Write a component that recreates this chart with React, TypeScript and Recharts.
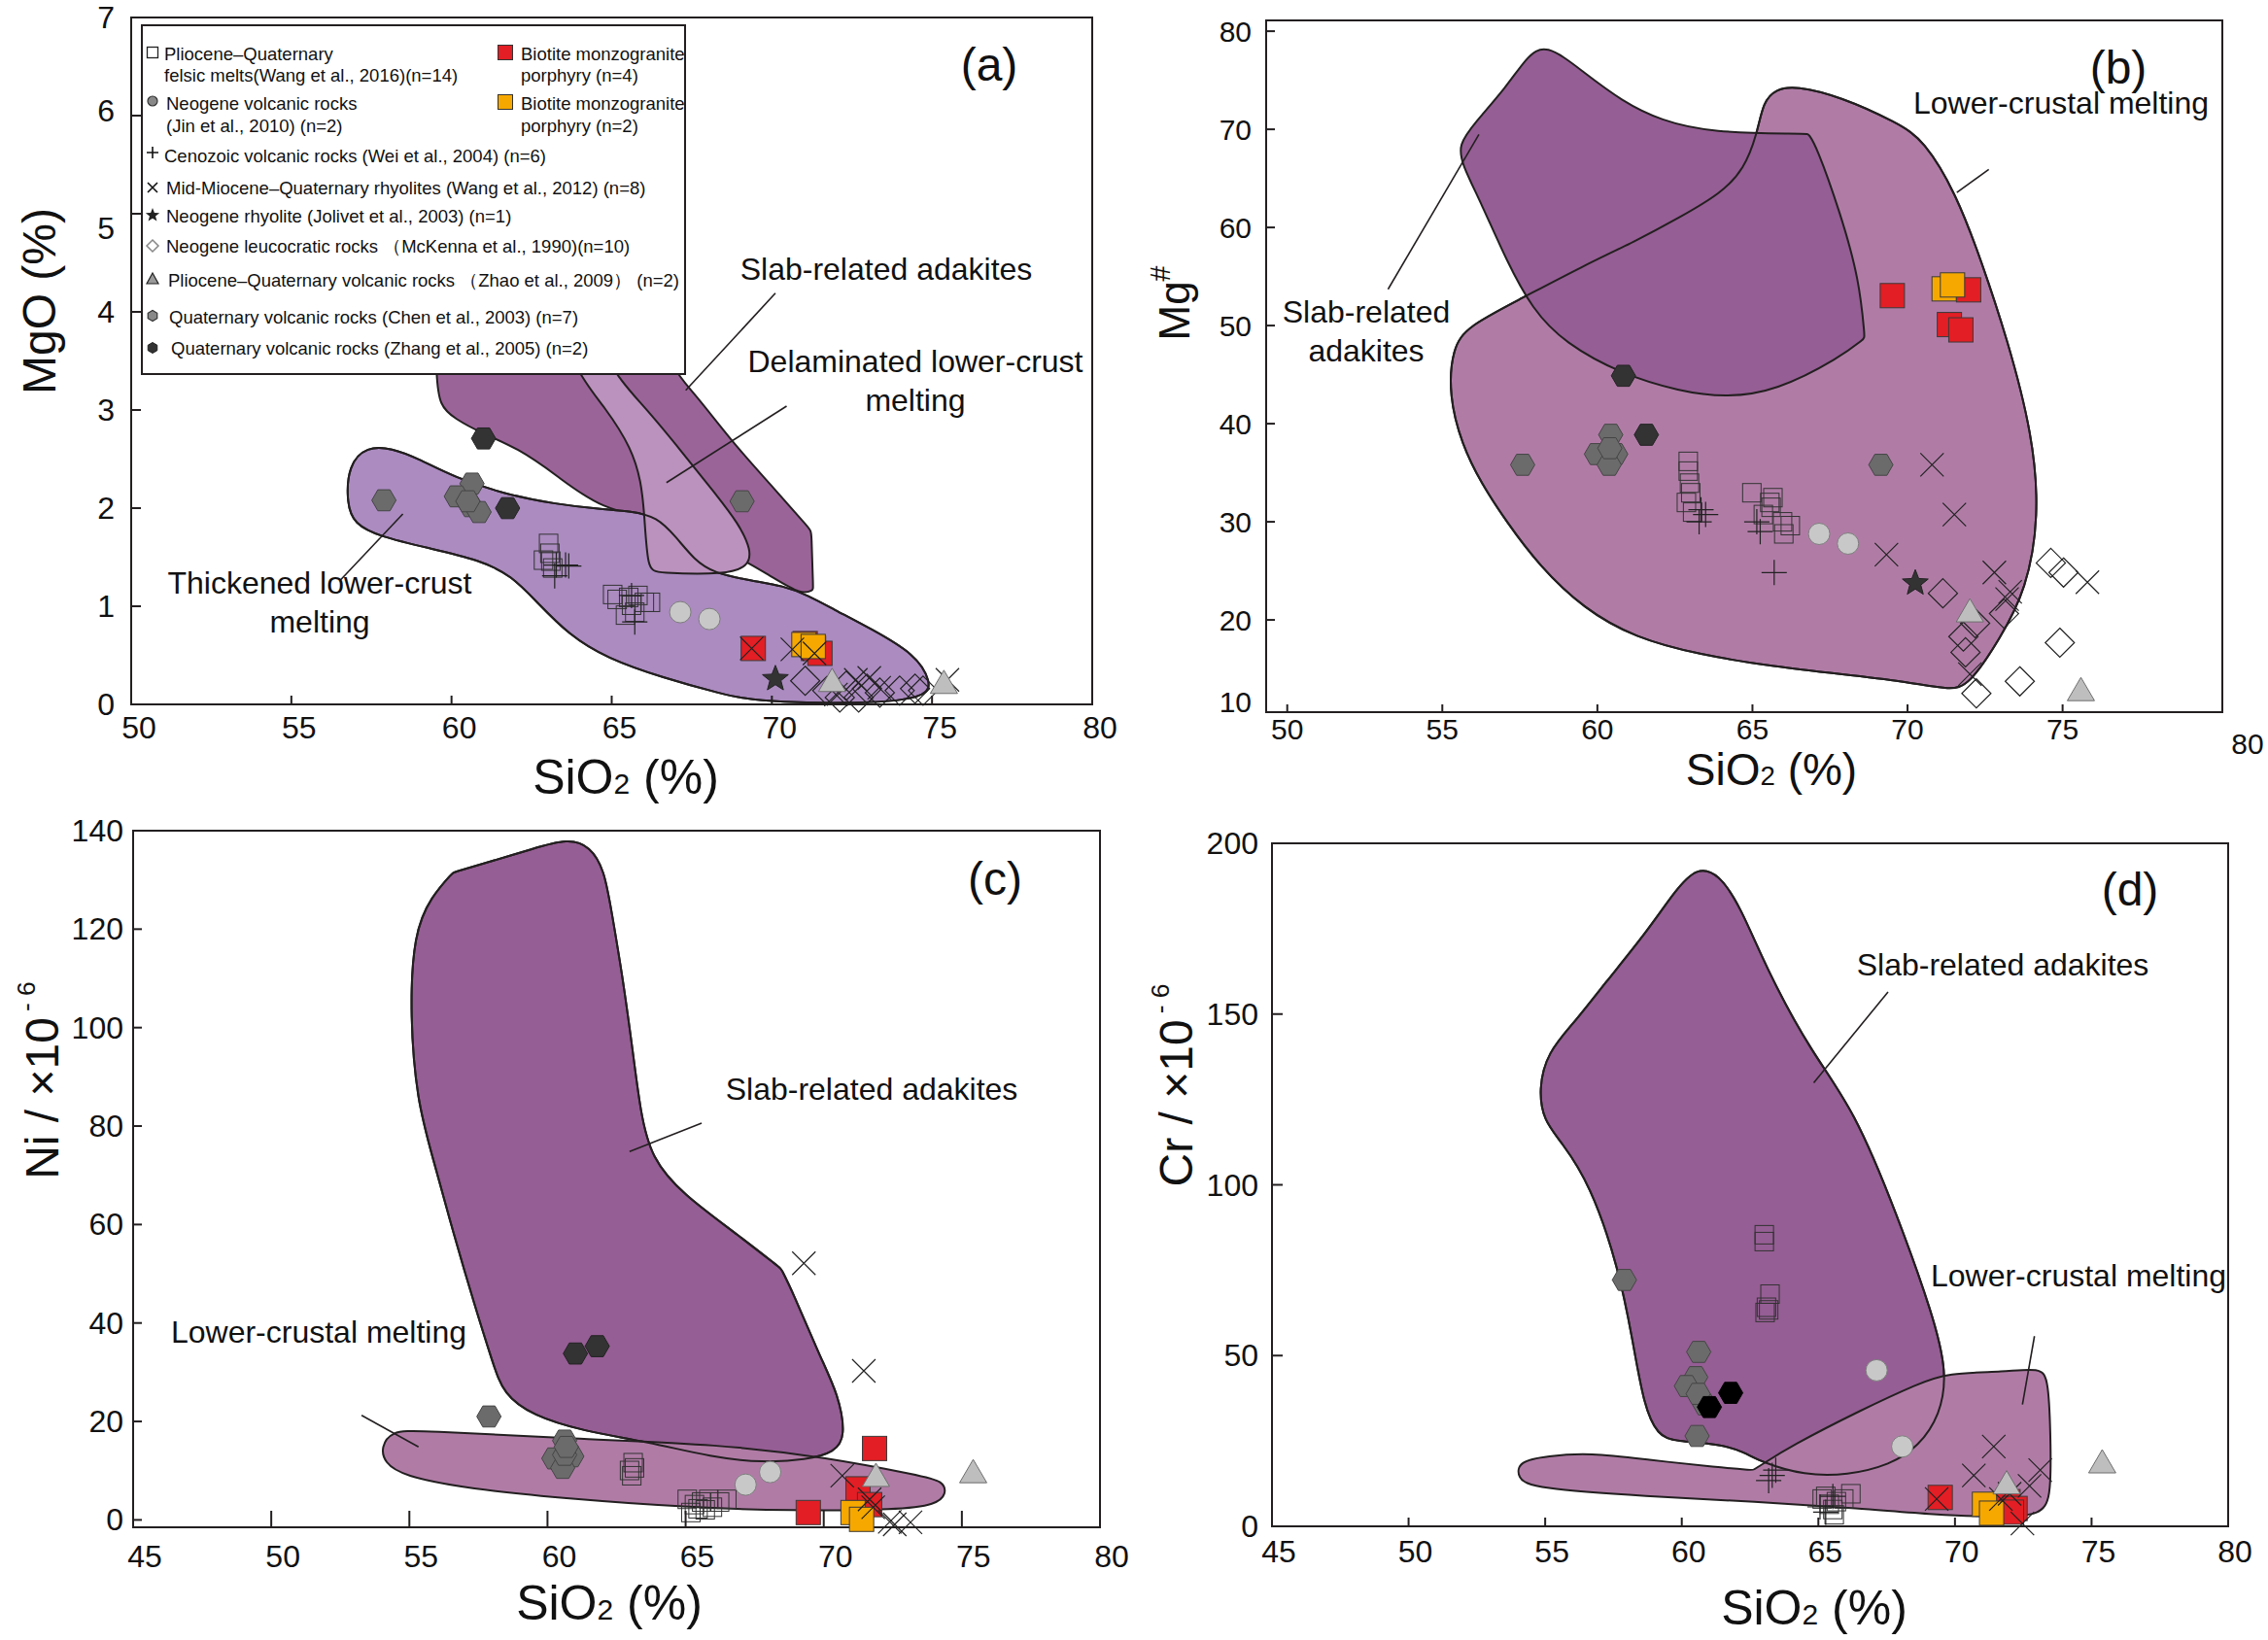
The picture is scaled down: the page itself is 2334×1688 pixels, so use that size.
import React from 'react';
import { ScatterChart, Scatter, XAxis, YAxis, ReferenceArea } from 'recharts';

const FONT = '"Liberation Sans", Arial, Helvetica, sans-serif';
const INK = '#231f20';

type Pair = [number, number];
const toPts = (a: Pair[]) => a.map(([x, y]) => ({ x, y }));

// ---------------- Panel (a): SiO2 vs MgO ----------------
const aSlabField: Pair[] = [[59.5, 3.9], [59.52, 3.36], [59.62, 3.04], [60.11, 2.91], [60.9, 2.77], [62.08, 2.61], [63.26, 2.34], [64.64, 1.99], [66.61, 1.87], [68.58, 1.57], [69.96, 1.31], [70.94, 1.11], [71.29, 1.17], [71.29, 1.17], [71.23, 1.77], [71.23, 1.77], [69.96, 2.24], [68.77, 2.67], [67.59, 3.17], [66.81, 3.44], [66.5, 3.9]];
const aDelamField: Pair[] = [[63.6, 3.9], [63.75, 3.44], [64.84, 3.01], [65.62, 2.61], [65.92, 2.27], [66.02, 1.94], [66.12, 1.37], [66.41, 1.34], [68.58, 1.32], [69.27, 1.41], [69.36, 1.57], [68.97, 1.84], [68.18, 2.17], [67.2, 2.57], [66.02, 3.04], [64.84, 3.44], [64.7, 3.9]];
const aThickField: Pair[] = [[57.36, 2.63], [56.77, 2.44], [56.73, 2.04], [56.96, 1.84], [57.75, 1.71], [59.33, 1.59], [60.9, 1.47], [61.88, 1.31], [62.67, 1.04], [63.66, 0.71], [64.84, 0.47], [66.61, 0.27], [68.38, 0.11], [69.76, 0.01], [74.88, 0.01], [74.97, 0.24], [74.48, 0.51], [73.1, 0.77], [71.92, 0.97], [71.14, 1.11], [70.35, 1.21], [69.36, 1.26], [68.18, 1.34], [67.59, 1.47], [67.0, 1.71], [66.41, 1.91], [65.62, 1.97], [64.64, 1.99], [63.27, 2.04], [61.69, 2.14], [60.11, 2.31], [58.93, 2.51], [58.14, 2.61]];
const aSlabLeader: Pair[] = [[67.31, 3.2], [70.11, 4.19]];
const aDelamLeader: Pair[] = [[66.71, 2.26], [70.46, 3.04]];
const aThickLeader: Pair[] = [[58.48, 1.94], [56.54, 1.27]];

const aWang2016: Pair[] = [[63.03, 1.64], [63.07, 1.54], [63.1, 1.46], [63.16, 1.39], [62.87, 1.47], [65.03, 1.12], [65.53, 1.09], [65.62, 1.01], [65.72, 0.94], [66.02, 1.04], [66.21, 1.04], [65.43, 0.91], [65.82, 1.11], [65.17, 1.07]];
const aWei: Pair[] = [[63.27, 1.42], [63.56, 1.42], [63.66, 1.41], [63.22, 1.31], [65.72, 0.84], [65.62, 1.11]];
const aJin: Pair[] = [[67.14, 0.94], [68.05, 0.87]];
const aChen: Pair[] = [[57.89, 2.08], [60.64, 2.25], [60.15, 2.12], [60.6, 2.02], [60.86, 1.96], [60.51, 2.07], [69.07, 2.07]];
const aZhang: Pair[] = [[61.0, 2.71], [61.75, 2.0]];
const aRed: Pair[] = [[69.42, 0.57], [71.04, 0.62], [71.3, 0.57], [71.5, 0.52]];
const aOrange: Pair[] = [[71.0, 0.61], [71.29, 0.59]];
const aWang2012: Pair[] = [[69.37, 0.57], [70.64, 0.56], [71.33, 0.52], [72.0, 0.1], [72.62, 0.25], [73.04, 0.27], [73.35, 0.17], [75.48, 0.25]];
const aJolivet: Pair[] = [[70.11, 0.26]];
const aMcKenna: Pair[] = [[71.04, 0.24], [71.73, 0.14], [72.12, 0.07], [72.71, 0.07], [72.97, 0.16], [73.37, 0.12], [74.47, 0.16], [72.32, 0.19], [74.72, 0.14], [73.99, 0.14]];
const aZhao: Pair[] = [[71.88, 0.24], [75.37, 0.22]];

// ---------------- Panel (b): SiO2 vs Mg# ----------------
const bLowerField: Pair[] = [[66.38, 74.43], [67.83, 73.35], [69.69, 70.64], [70.52, 68.92], [71.56, 63.5], [72.38, 56.6], [73.21, 48.72], [74.04, 38.87], [74.25, 30.49], [73.83, 23.1], [73.0, 18.18], [71.97, 13.25], [71.35, 12.86], [69.9, 13.74], [67.83, 14.48], [65.76, 15.22], [63.28, 16.45], [61.21, 18.18], [59.56, 21.13], [58.11, 25.57], [57.07, 30.0], [56.25, 33.94], [55.63, 37.88], [55.21, 42.81], [55.32, 47.73], [55.83, 49.95], [57.49, 52.66], [59.56, 56.11], [61.21, 58.57], [62.66, 61.03], [64.0, 63.5], [64.73, 65.96], [65.14, 69.41], [65.35, 72.86], [65.76, 74.09]];
const bSlabField: Pair[] = [[58.32, 78.87], [59.56, 75.81], [60.8, 72.86], [62.04, 70.89], [63.69, 69.66], [66.6, 69.55], [66.8, 69.51], [66.8, 69.51], [67.05, 68.42], [67.83, 61.53], [68.45, 54.63], [68.62, 48.72], [68.62, 48.72], [67.83, 46.75], [65.76, 43.3], [64.11, 42.66], [62.66, 43.3], [60.8, 45.02], [58.94, 48.23], [57.9, 51.67], [57.07, 56.6], [56.25, 62.51], [55.63, 66.45], [55.52, 68.42], [56.04, 70.64], [57.07, 74.33], [57.7, 77.29]];
const bSlabLeader: Pair[] = [[53.25, 53.7], [56.18, 69.47]];
const bLowerLeader: Pair[] = [[71.59, 63.56], [72.62, 65.92]];

const bWang2016: Pair[] = [[62.93, 36.16], [62.93, 35.17], [62.97, 33.94], [62.87, 31.97], [63.01, 32.96], [64.98, 32.96], [65.56, 31.97], [65.6, 31.48], [65.35, 30.74], [65.97, 30.0], [66.22, 29.61], [66.01, 28.77], [65.66, 32.46], [63.07, 30.99]];
const bWei: Pair[] = [[63.34, 31.23], [63.28, 30.0], [65.14, 30.0], [65.25, 29.0], [65.7, 24.83], [63.49, 30.74]];
const bJin: Pair[] = [[67.15, 28.77], [68.08, 27.78]];
const bChen: Pair[] = [[57.59, 35.81], [60.43, 38.87], [59.97, 36.9], [60.59, 36.9], [60.38, 35.81], [60.4, 37.5], [69.14, 35.81]];
const bZhang: Pair[] = [[60.84, 44.88], [61.58, 38.87]];
const bRed: Pair[] = [[69.51, 53.05], [71.97, 53.64], [71.35, 50.1], [71.72, 49.56]];
const bOrange: Pair[] = [[71.18, 53.74], [71.45, 54.14]];
const bWang2012: Pair[] = [[70.79, 35.81], [71.51, 30.74], [69.32, 26.65], [72.8, 24.83], [73.31, 22.86], [75.8, 23.84], [72.01, 14.48], [73.21, 22.12]];
const bJolivet: Pair[] = [[70.25, 23.74]];
const bMcKenna: Pair[] = [[71.14, 22.71], [72.18, 19.66], [73.11, 20.64], [71.87, 16.7], [74.62, 25.81], [75.03, 24.83], [74.91, 17.68], [73.62, 13.74], [72.22, 12.51], [71.8, 18.3]];
const bZhao: Pair[] = [[72.01, 20.89], [75.59, 12.86]];

// ---------------- Panel (c): SiO2 vs Ni ----------------
const cSlabField: Pair[] = [[60.75, 138.43], [61.54, 136.84], [62.06, 132.04], [62.32, 123.52], [62.71, 110.73], [63.1, 94.75], [63.36, 83.03], [63.75, 73.44], [64.93, 65.98], [66.75, 58.52], [68.45, 51.06], [68.45, 51.06], [68.84, 46.8], [69.88, 32.95], [70.53, 25.49], [70.8, 16.96], [70.4, 13.77], [69.36, 12.17], [67.8, 11.63], [65.97, 12.7], [63.62, 15.9], [61.28, 18.03], [59.45, 21.23], [58.41, 25.49], [58.02, 31.88], [57.36, 43.6], [56.58, 58.52], [55.8, 74.5], [55.28, 85.16], [55.02, 102.21], [55.15, 119.25], [55.8, 126.71], [56.58, 131.51], [56.58, 131.51], [57.88, 133.64], [59.45, 136.3]];
const cLowerField: Pair[] = [[54.36, 18.03], [55.28, 18.24], [61.01, 16.43], [66.23, 15.37], [70.14, 12.7], [73.53, 8.97], [74.32, 7.91], [74.45, 5.24], [74.06, 3.11], [72.75, 2.05], [68.84, 1.83], [64.93, 2.58], [61.01, 4.18], [57.1, 6.31], [54.75, 8.97], [54.1, 11.63], [53.97, 14.83]];
const cSlabLeader: Pair[] = [[62.97, 74.82], [65.58, 80.58]];
const cLowerLeader: Pair[] = [[53.27, 21.23], [55.33, 14.83]];

const cWang2016: Pair[] = [[63.1, 11.63], [62.97, 10.04], [63.15, 10.57], [63.05, 8.97], [65.06, 4.18], [65.32, 3.11], [65.58, 3.64], [66.23, 3.64], [65.71, 2.05], [65.45, 2.26], [65.84, 4.18], [66.49, 4.18], [65.19, 1.5], [65.97, 2.58]];
const cJin: Pair[] = [[67.17, 7.16], [68.06, 9.72]];
const cChen: Pair[] = [[57.88, 21.01], [60.62, 16.11], [60.23, 12.49], [60.88, 12.92], [60.55, 10.57], [60.62, 13.23], [60.68, 14.83]];
const cZhang: Pair[] = [[61.01, 33.8], [61.8, 35.29]];
const cRed: Pair[] = [[71.84, 14.51], [71.24, 6.31], [71.66, 3.11], [69.44, 1.5]];
const cOrange: Pair[] = [[71.06, 1.5], [71.37, 0.12]];
const cWang2012: Pair[] = [[69.28, 52.13], [71.45, 30.28], [70.67, 8.97], [71.79, 2.58], [72.57, -0.9], [73.14, -0.5], [71.66, 4.18], [72.39, -0.4]];
const cZhao: Pair[] = [[71.89, 8.97], [75.41, 9.72]];

// ---------------- Panel (d): SiO2 vs Cr ----------------
const dSlabField: Pair[] = [[60.56, 193.08], [61.35, 191.08], [62.13, 181.85], [63.18, 161.85], [64.75, 138.77], [66.32, 121.85], [67.89, 91.08], [69.2, 61.85], [69.72, 44.92], [69.46, 32.62], [68.67, 23.38], [67.63, 18.0], [66.06, 14.92], [64.49, 14.92], [62.92, 18.77], [62.26, 21.85], [61.35, 24.15], [59.78, 24.92], [59.12, 26.46], [58.6, 35.69], [58.21, 54.15], [57.69, 75.69], [56.64, 100.31], [55.59, 112.62], [54.94, 118.77], [54.76, 128.0], [55.07, 138.77], [56.12, 148.0], [57.16, 158.77], [58.73, 174.15], [59.78, 186.46]];
const dLowerField: Pair[] = [[54.02, 19.08], [55.07, 20.62], [56.64, 21.54], [58.73, 19.54], [61.35, 17.23], [62.6, 16.46], [62.6, 16.46], [62.92, 18.0], [63.96, 23.38], [66.58, 34.15], [68.67, 41.85], [69.72, 44.92], [71.81, 45.23], [73.12, 46.46], [73.43, 43.38], [73.51, 23.38], [73.51, 8.0], [73.12, 3.38], [71.81, 2.62], [69.2, 3.38], [66.58, 5.23], [62.66, 7.23], [58.73, 8.77], [54.55, 11.08], [53.97, 14.15]];
const dSlabLeader: Pair[] = [[67.55, 156.46], [64.83, 129.85]];
const dLowerLeader: Pair[] = [[72.91, 55.69], [72.47, 35.69]];

const dWang2016: Pair[] = [[63.02, 85.38], [63.02, 83.38], [63.23, 68.0], [63.1, 64.15], [63.05, 62.62], [65.14, 8.0], [65.4, 6.46], [65.66, 7.23], [66.19, 9.54], [65.53, 4.92], [65.27, 8.77], [65.58, 3.38], [65.93, 8.0], [63.18, 63.38]];
const dWei: Pair[] = [[63.44, 16.46], [63.18, 13.38], [63.31, 14.92], [65.06, 5.69], [65.53, 8.77], [65.27, 4.15]];
const dJin: Pair[] = [[67.13, 45.69], [68.07, 23.38]];
const dChen: Pair[] = [[57.9, 72.15], [60.62, 51.08], [60.51, 43.69], [60.17, 41.08], [60.83, 35.69], [60.56, 26.46], [60.6, 38.8]];
const dZhang: Pair[] = [[61.01, 34.92], [61.79, 39.08]];
const dRed: Pair[] = [[69.46, 8.46], [71.94, 7.23], [72.2, 5.23], [72.07, 4.15]];
const dOrange: Pair[] = [[71.08, 6.46], [71.34, 3.85]];
const dWang2012: Pair[] = [[71.42, 23.38], [70.69, 14.92], [72.73, 11.85], [73.12, 16.46], [72.47, 0.8], [69.33, 8.0], [71.68, 8.0], [72.0, 9.54]];
const dZhao: Pair[] = [[71.89, 12.62], [75.39, 18.77]];

// ---------------- tick values ----------------
const aXTicks = [50, 55, 60, 65, 70, 75, 80];
const aYTicks = [0, 1, 2, 3, 4, 5, 6, 7];
const bXTicks = [50, 55, 60, 65, 70, 75];
const bYTicks = [10.6, 20, 30, 40, 50, 60, 70, 80];
const cdXTicks = [45, 50, 55, 60, 65, 70, 75, 80];
const cYTicks = [0, 20, 40, 60, 80, 100, 120, 140];
const dYTicks = [0, 50, 100, 150, 200];

// ---------------- markers ----------------
const Empty = () => <g />;
const hexPts = (cx: number, cy: number, r: number) =>
  [0, 1, 2, 3, 4, 5].map(i => `${cx + r * Math.cos((Math.PI / 3) * i)},${cy + r * Math.sin((Math.PI / 3) * i)}`).join(' ');
const starPts = (cx: number, cy: number, R: number, r: number) =>
  Array.from({ length: 10 }, (_, i) => {
    const a = -Math.PI / 2 + (Math.PI / 5) * i;
    const rr = i % 2 === 0 ? R : r;
    return `${cx + rr * Math.cos(a)},${cy + rr * Math.sin(a)}`;
  }).join(' ');

const OpenSquare = ({ cx, cy }: any) => <rect x={cx - 9.5} y={cy - 9.5} width={19} height={19} fill="none" stroke="#333" strokeWidth={1} />;
const RedSquare = ({ cx, cy }: any) => <rect x={cx - 12.5} y={cy - 12.5} width={25} height={25} fill="#e31e24" stroke="#3a3a3a" strokeWidth={1} />;
const OrangeSquare = ({ cx, cy }: any) => <rect x={cx - 12.5} y={cy - 12.5} width={25} height={25} fill="#f6a800" stroke="#3a3a3a" strokeWidth={1} />;
const GrayCircle = ({ cx, cy }: any) => <circle cx={cx} cy={cy} r={11} fill="#c8c8c8" stroke="#7d7d7d" strokeWidth={1} />;
const PlusMark = ({ cx, cy }: any) => <path d={`M${cx - 13},${cy}H${cx + 13}M${cx},${cy - 13}V${cy + 13}`} stroke="#222" strokeWidth={1.2} />;
const CrossMark = ({ cx, cy }: any) => <path d={`M${cx - 12},${cy - 12}L${cx + 12},${cy + 12}M${cx - 12},${cy + 12}L${cx + 12},${cy - 12}`} stroke="#222" strokeWidth={1.2} />;
const StarMark = ({ cx, cy }: any) => <polygon points={starPts(cx, cy, 14, 6)} fill="#333" stroke="#222" strokeWidth={1} />;
const DiamondMark = ({ cx, cy }: any) => <path d={`M${cx},${cy - 15}L${cx + 15},${cy}L${cx},${cy + 15}L${cx - 15},${cy}Z`} fill="none" stroke="#222" strokeWidth={1.2} />;
const TriangleMark = ({ cx, cy }: any) => <polygon points={`${cx},${cy - 13} ${cx + 14},${cy + 11} ${cx - 14},${cy + 11}`} fill="#bebebe" stroke="#6e6e6e" strokeWidth={1} />;
const GrayHex = ({ cx, cy }: any) => <polygon points={hexPts(cx, cy, 12.5)} fill="#6b6b6b" stroke="#454545" strokeWidth={1} />;
const DarkHex = ({ cx, cy }: any) => <polygon points={hexPts(cx, cy, 12.5)} fill="#333333" stroke="#222" strokeWidth={1} />;
const BlackHex = ({ cx, cy }: any) => <polygon points={hexPts(cx, cy, 12.5)} fill="#000" stroke="#000" strokeWidth={1} />;

// ---------------- ticks ----------------
type TickOpt = { font: number; dx: number; dy: number; len: number; names?: Record<string, string>; shift?: Record<string, number> };

const xTickFn = (o: TickOpt) => (p: any) => {
  const v = p.payload.value;
  const label = o.names?.[String(v)] ?? String(v);
  return (
    <g>
      <line x1={p.x} x2={p.x} y1={p.y} y2={p.y - o.len} stroke={INK} strokeWidth={2} />
      <text x={p.x + o.dx} y={p.y + o.dy} textAnchor="middle" dominantBaseline="central" fontSize={o.font} fontFamily={FONT} fill="#111">{label}</text>
    </g>
  );
};
const yTickFn = (o: TickOpt) => (p: any) => {
  const v = p.payload.value;
  const label = o.names?.[String(v)] ?? String(v);
  const s = o.shift?.[String(v)] ?? 0;
  return (
    <g>
      <line x1={p.x} x2={p.x + o.len} y1={p.y} y2={p.y} stroke={INK} strokeWidth={2} />
      <text x={p.x - o.dx} y={p.y + s} textAnchor="end" dominantBaseline="central" fontSize={o.font} fontFamily={FONT} fill="#111">{label}</text>
    </g>
  );
};

// ---------------- panel ----------------
type Field = { data: Pair[]; fill: string; outlineOnly?: boolean };
type Series = { data: Pair[]; shape: any };
interface PanelProps {
  left: number; top: number; width: number; height: number;
  margin: { top: number; right: number; bottom: number; left: number };
  xDomain: [number, number]; yDomain: [number, number];
  xTicks: number[]; yTicks: number[];
  xTick: TickOpt; yTick: TickOpt;
  fields: Field[]; leaders: Pair[][]; series: Series[];
}

const Panel = (p: PanelProps) => (
  <div style={{ position: 'absolute', left: p.left, top: p.top }}>
    <ScatterChart width={p.width} height={p.height} margin={p.margin}>
      <XAxis type="number" dataKey="x" domain={p.xDomain} ticks={p.xTicks} interval={0} tickSize={0} tickMargin={0}
        axisLine={false} tickLine={false} tick={xTickFn(p.xTick)} height={60} />
      <YAxis type="number" dataKey="y" domain={p.yDomain} ticks={p.yTicks} interval={0} tickSize={0} tickMargin={0}
        axisLine={false} tickLine={false} tick={yTickFn(p.yTick)} width={80} />
      {p.fields.map((f, i) => (
        <Scatter key={`f${i}`} data={toPts(f.data)} shape={Empty} isAnimationActive={false}
          lineJointType="basisClosed"
          line={{ fill: f.outlineOnly ? 'none' : f.fill, stroke: INK, strokeWidth: 2 }} />
      ))}
      {p.leaders.map((l, i) => (
        <Scatter key={`l${i}`} data={toPts(l)} shape={Empty} isAnimationActive={false}
          lineJointType="linear" line={{ fill: 'none', stroke: INK, strokeWidth: 1.6 }} />
      ))}
      {p.series.map((s, i) => (
        <Scatter key={`s${i}`} data={toPts(s.data)} shape={s.shape} isAnimationActive={false} />
      ))}
      <ReferenceArea x1={p.xDomain[0]} x2={p.xDomain[1]} y1={p.yDomain[0]} y2={p.yDomain[1]}
        fill="none" fillOpacity={0} stroke={INK} strokeWidth={2} />
    </ScatterChart>
  </div>
);

// ---------------- text helpers ----------------
const T = ({ x, y, size, children, rotate, lh }: any) => (
  <div style={{
    position: 'absolute', left: x, top: y,
    transform: `translate(-50%, -50%)${rotate ? ' rotate(-90deg)' : ''}`,
    fontSize: size, fontFamily: FONT, whiteSpace: 'nowrap', textAlign: 'center',
    lineHeight: lh ? `${lh}px` : 1.1, color: '#111',
  }}>{children}</div>
);
const SiO2 = () => <>SiO<span style={{ fontSize: '0.6em' }}>2</span> (%)</>;

const LegendMark = ({ kind }: { kind: string }) => {
  const c = 8;
  let el: React.ReactNode = null;
  if (kind === 'sq') el = <rect x={2.5} y={2.5} width={11} height={11} fill="#fff" stroke="#222" strokeWidth={1.3} />;
  if (kind === 'red') el = <rect x={0.5} y={0.5} width={15} height={15} fill="#e31e24" stroke="#333" strokeWidth={1} />;
  if (kind === 'orange') el = <rect x={0.5} y={0.5} width={15} height={15} fill="#f6a800" stroke="#333" strokeWidth={1} />;
  if (kind === 'circle') el = <circle cx={c} cy={c} r={5} fill="#888" stroke="#333" strokeWidth={1.2} />;
  if (kind === 'plus') el = <path d="M2,8H14M8,2V14" stroke="#111" strokeWidth={1.6} />;
  if (kind === 'cross') el = <path d="M3,3L13,13M3,13L13,3" stroke="#111" strokeWidth={1.6} />;
  if (kind === 'star') el = <polygon points={starPts(c, c + 0.5, 7.5, 3.2)} fill="#222" />;
  if (kind === 'diamond') el = <path d="M8,2L14,8L8,14L2,8Z" fill="#fff" stroke="#888" strokeWidth={1.5} />;
  if (kind === 'tri') el = <polygon points="8,2 14,13 2,13" fill="#999" stroke="#222" strokeWidth={1.2} />;
  if (kind === 'hexg') el = <polygon points={hexPts(c, c, 5.5)} fill="#888" stroke="#333" strokeWidth={1.2} transform="rotate(90 8 8)" />;
  if (kind === 'hexd') el = <polygon points={hexPts(c, c, 5.5)} fill="#333" stroke="#222" strokeWidth={1} transform="rotate(90 8 8)" />;
  return <svg width={16} height={16} style={{ display: 'block' }}>{el}</svg>;
};

const legendRows: { kind: string; mx: number; my: number; lines: [number, number, string][] }[] = [
  { kind: 'sq', mx: 12, my: 29, lines: [[24, 31, 'Pliocene–Quaternary'], [24, 53, 'felsic melts(Wang et al., 2016)(n=14)']] },
  { kind: 'circle', mx: 12, my: 79, lines: [[26, 82, 'Neogene volcanic rocks'], [26, 105, '(Jin et al., 2010) (n=2)']] },
  { kind: 'plus', mx: 12, my: 132, lines: [[24, 136, 'Cenozoic volcanic rocks (Wei et al., 2004) (n=6)']] },
  { kind: 'cross', mx: 12, my: 168, lines: [[26, 169, 'Mid-Miocene–Quaternary rhyolites (Wang et al., 2012) (n=8)']] },
  { kind: 'star', mx: 12, my: 196, lines: [[26, 198, 'Neogene rhyolite (Jolivet et al., 2003) (n=1)']] },
  { kind: 'diamond', mx: 12, my: 228, lines: [[26, 229, 'Neogene leucocratic rocks （McKenna et al., 1990)(n=10)']] },
  { kind: 'tri', mx: 12, my: 262, lines: [[28, 264, 'Pliocene–Quaternary volcanic rocks （Zhao et al., 2009） (n=2)']] },
  { kind: 'hexg', mx: 12, my: 300, lines: [[29, 302, 'Quaternary volcanic rocks (Chen et al., 2003) (n=7)']] },
  { kind: 'hexd', mx: 12, my: 333, lines: [[31, 334, 'Quaternary volcanic rocks (Zhang et al., 2005)  (n=2)']] },
  { kind: 'red', mx: 375, my: 29, lines: [[391, 31, 'Biotite monzogranite'], [391, 53, 'porphyry (n=4)']] },
  { kind: 'orange', mx: 375, my: 80, lines: [[391, 82, 'Biotite monzogranite'], [391, 105, 'porphyry (n=2)']] },
];

const LegendBox = () => (
  <div style={{ position: 'absolute', left: 145, top: 25, width: 561, height: 361, boxSizing: 'border-box', border: `2px solid ${INK}`, background: '#fff' }}>
    {legendRows.map((r, i) => (
      <React.Fragment key={i}>
        <div style={{ position: 'absolute', left: r.mx - 8 - 2, top: r.my - 8 - 2 }}><LegendMark kind={r.kind} /></div>
        {r.lines.map(([lx, ly, s], j) => (
          <div key={j} style={{ position: 'absolute', left: lx - 2, top: ly - 11 - 2, height: 22, lineHeight: '22px', fontSize: 18.5, fontFamily: FONT, whiteSpace: 'nowrap', color: '#111' }}>{s}</div>
        ))}
      </React.Fragment>
    ))}
  </div>
);

// ---------------- colours ----------------
const SLAB_A = '#9b6499';
const DELAM_A = '#bb91bd';
const THICK_A = '#ab8bc0';
const SLAB = '#955e94';
const LOWER = '#b07ca6';

export default function App() {
  return (
    <div style={{ position: 'absolute', left: 0, top: 0, width: 2334, height: 1688, background: '#fff', overflow: 'hidden' }}>
      <Panel left={0} top={0} width={1160} height={840} margin={{ top: 18, right: 36, bottom: 55, left: 55 }}
        xDomain={[50, 80]} yDomain={[0, 7]} xTicks={aXTicks} yTicks={aYTicks}
        xTick={{ font: 32, dx: 8, dy: 24, len: 9 }} yTick={{ font: 32, dx: 17, dy: 0, len: 10, shift: { '5': 15, '6': -5 } }}
        fields={[
          { data: aSlabField, fill: SLAB_A },
          { data: aThickField, fill: THICK_A },
          { data: aDelamField, fill: DELAM_A },
          { data: aThickField, fill: THICK_A, outlineOnly: true },
        ]}
        leaders={[aSlabLeader, aDelamLeader, aThickLeader]}
        series={[
          { data: aWang2016, shape: OpenSquare }, { data: aWei, shape: PlusMark }, { data: aJin, shape: GrayCircle },
          { data: aChen, shape: GrayHex }, { data: aZhang, shape: DarkHex }, { data: aRed, shape: RedSquare },
          { data: aOrange, shape: OrangeSquare }, { data: aWang2012, shape: CrossMark }, { data: aJolivet, shape: StarMark },
          { data: aMcKenna, shape: DiamondMark }, { data: aZhao, shape: TriangleMark },
        ]} />

      <Panel left={1167} top={0} width={1167} height={840} margin={{ top: 21, right: 47, bottom: 47, left: 56 }}
        xDomain={[49.32, 80.15]} yDomain={[10.6, 81.1]} xTicks={bXTicks} yTicks={bYTicks}
        xTick={{ font: 30, dx: 0, dy: 17, len: 8 }} yTick={{ font: 30, dx: 15, dy: 0, len: 9, names: { '10.6': '10' }, shift: { '10.6': -11 } }}
        fields={[
          { data: bLowerField, fill: LOWER },
          { data: bSlabField, fill: SLAB },
          { data: bLowerField, fill: LOWER, outlineOnly: true },
        ]}
        leaders={[bSlabLeader, bLowerLeader]}
        series={[
          { data: bWang2016, shape: OpenSquare }, { data: bWei, shape: PlusMark }, { data: bJin, shape: GrayCircle },
          { data: bChen, shape: GrayHex }, { data: bZhang, shape: DarkHex }, { data: bRed, shape: RedSquare },
          { data: bOrange, shape: OrangeSquare }, { data: bWang2012, shape: CrossMark }, { data: bJolivet, shape: StarMark },
          { data: bMcKenna, shape: DiamondMark }, { data: bZhao, shape: TriangleMark },
        ]} />

      <Panel left={0} top={830} width={1167} height={858} margin={{ top: 25, right: 35, bottom: 56, left: 57 }}
        xDomain={[45, 80]} yDomain={[-1.5, 140]} xTicks={cdXTicks} yTicks={cYTicks}
        xTick={{ font: 32, dx: 12, dy: 30, len: 17 }} yTick={{ font: 32, dx: 10, dy: 0, len: 9 }}
        fields={[
          { data: cSlabField, fill: SLAB },
          { data: cLowerField, fill: LOWER },
          { data: cSlabField, fill: SLAB, outlineOnly: true },
        ]}
        leaders={[cSlabLeader, cLowerLeader]}
        series={[
          { data: cWang2016, shape: OpenSquare }, { data: cJin, shape: GrayCircle },
          { data: cChen, shape: GrayHex }, { data: cZhang, shape: DarkHex }, { data: cRed, shape: RedSquare },
          { data: cOrange, shape: OrangeSquare }, { data: cWang2012, shape: CrossMark }, { data: cZhao, shape: TriangleMark },
        ]} />

      <Panel left={1167} top={840} width={1167} height={848} margin={{ top: 28, right: 41, bottom: 57, left: 62 }}
        xDomain={[45, 80]} yDomain={[0, 200]} xTicks={cdXTicks} yTicks={dYTicks}
        xTick={{ font: 32, dx: 7, dy: 26, len: 9 }} yTick={{ font: 32, dx: 14, dy: 0, len: 11 }}
        fields={[
          { data: dSlabField, fill: SLAB },
          { data: dLowerField, fill: LOWER },
          { data: dSlabField, fill: SLAB, outlineOnly: true },
        ]}
        leaders={[dSlabLeader, dLowerLeader]}
        series={[
          { data: dWang2016, shape: OpenSquare }, { data: dWei, shape: PlusMark }, { data: dJin, shape: GrayCircle },
          { data: dChen, shape: GrayHex }, { data: dZhang, shape: BlackHex }, { data: dRed, shape: RedSquare },
          { data: dOrange, shape: OrangeSquare }, { data: dWang2012, shape: CrossMark }, { data: dZhao, shape: TriangleMark },
        ]} />

      <LegendBox />

      {/* panel (a) texts */}
      <T x={1018} y={67} size={48}>(a)</T>
      <T x={912} y={278} size={32}>Slab-related adakites</T>
      <T x={942} y={392} size={32} lh={40}>Delaminated lower-crust<br />melting</T>
      <T x={329} y={620} size={32} lh={40}>Thickened lower-crust<br />melting</T>
      <T x={644} y={800} size={50}><SiO2 /></T>
      <T x={41} y={310} size={48} rotate>MgO (%)</T>

      {/* panel (b) texts */}
      <T x={2180} y={70} size={48}>(b)</T>
      <T x={2121} y={107} size={32}>Lower-crustal melting</T>
      <T x={1406} y={341} size={32} lh={40}>Slab-related<br />adakites</T>
      <T x={1823} y={792} size={46}><SiO2 /></T>
      <T x={2313} y={765} size={30}>80</T>
      <T x={1206} y={312} size={44} rotate>Mg<span style={{ fontSize: '0.65em', verticalAlign: '0.7em' }}>#</span></T>

      {/* panel (c) texts */}
      <T x={1024} y={905} size={48}>(c)</T>
      <T x={897} y={1122} size={32}>Slab-related adakites</T>
      <T x={328} y={1372} size={32}>Lower-crustal melting</T>
      <T x={627} y={1650} size={50}><SiO2 /></T>
      <T x={42} y={1112} size={48} rotate>Ni / ×10<span style={{ fontSize: '0.55em', verticalAlign: '0.9em', marginLeft: 6 }}>- 6</span></T>

      {/* panel (d) texts */}
      <T x={2192} y={916} size={48}>(d)</T>
      <T x={2061} y={994} size={32}>Slab-related adakites</T>
      <T x={2139} y={1314} size={32}>Lower-crustal melting</T>
      <T x={1867} y={1655} size={50}><SiO2 /></T>
      <T x={1209} y={1117} size={48} rotate>Cr / ×10<span style={{ fontSize: '0.55em', verticalAlign: '0.9em', marginLeft: 6 }}>- 6</span></T>
    </div>
  );
}
